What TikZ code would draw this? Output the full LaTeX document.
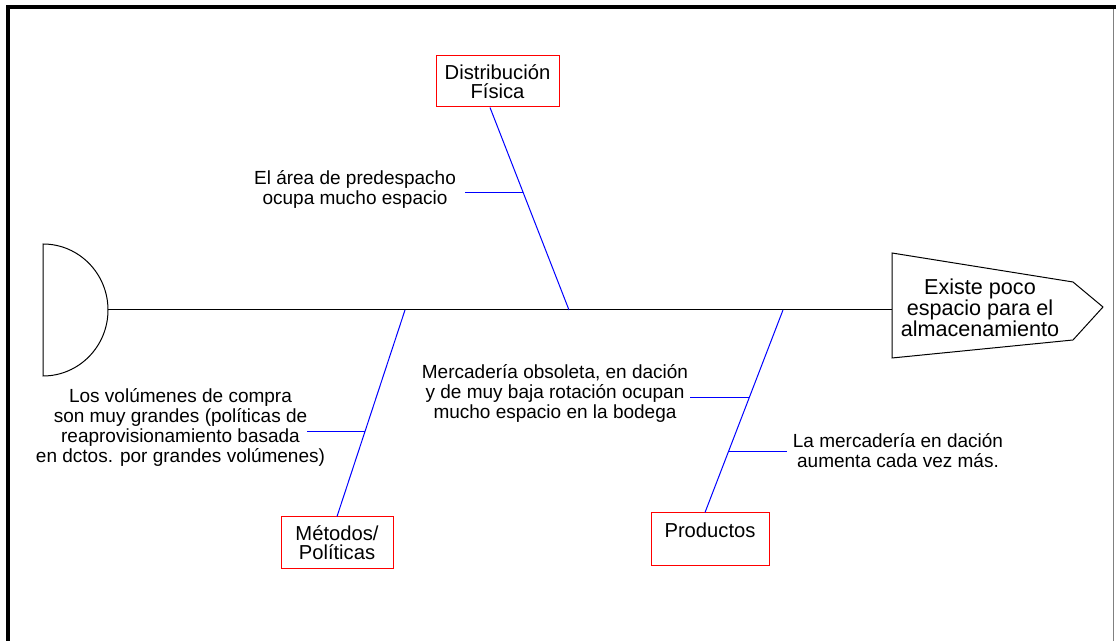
\documentclass[tikz,border=0pt]{standalone}
\usepackage{fontspec}
\setmainfont{Liberation Sans}
\usetikzlibrary{calc}
\def\spiney{310}
\newcommand\notefont{\fontsize{9.5}{10}\selectfont}
\newcommand\causefont{\fontsize{10.1}{9.6}\selectfont}
\newcommand\effectfont{\fontsize{10.8}{10.4}\selectfont}

\begin{document}
\begin{tikzpicture}[x=0.5pt,y=-0.5pt,
    bone/.style={draw=blue,line width=0.5pt},
    spine/.style={draw=black,line width=0.5pt},
    cause/.style={rectangle,draw=red,line width=0.5pt,align=center,font=\causefont,inner sep=0pt},
    note/.style={align=center,font=\notefont,inner sep=0pt}]
        \useasboundingbox (0,0) rectangle (1116,641);
        % frame
        \draw[line width=2pt] (8,641) -- (8,7) -- (1116,7);
        \draw[gray,line width=0.5pt] (1113,9) -- (1113,641);

        % tail and head
        \draw[spine] (43,244) arc[start angle=-90,end angle=90,x radius=65,y radius=66] -- cycle;
        \coordinate (tail) at (108,\spiney);
        \draw[spine] (892,253) -- (1073,282) -- (1103,307) -- (1073,340) -- (892,358) -- cycle;
        \coordinate (head) at (892,\spiney);
        \node[font=\effectfont,align=center,inner sep=0pt] (effect) at (980,308)
            {Existe poco\\espacio para el\\almacenamiento};

        \draw[spine] (tail) -- (head);
        \coordinate (s1) at (405,\spiney);
        \coordinate (s2) at (569,\spiney);
        \coordinate (s3) at (783,\spiney);

        % causes
        \node[cause,minimum width=61.5pt,minimum height=25.5pt] (dist) at (497.5,81.5) {Distribución\\Física};
        \node[cause,minimum width=56pt,minimum height=26pt] (met) at (337,543) {Métodos/\\Políticas};
        \node[cause,minimum width=59pt,minimum height=26.5pt] (prod) at (710,539.5) {Productos\\~};

        \draw[bone] ($(dist.south)+(-7.5,0)$) -- coordinate[pos=0.419] (b1) (s2);
        \draw[bone] (met.north) -- coordinate[pos=0.411] (b2) (s1);
        \draw[bone] ($(prod.north)+(-5,0)$) -- coordinate[pos=0.567] (b3) coordinate[pos=0.300] (b4) (s3);

        % sub-causes
        \node[note] (n1) at (355,189) {El área de predespacho\\ocupa mucho espacio};
        \node[note] (n2) at (180.5,427.5) {Los volúmenes de compra\\son muy grandes (políticas de\\reaprovisionamiento basada\\en dctos. por grandes volúmenes)};
        \node[note] (n3) at (555,393) {Mercadería obsoleta, en dación\\y de muy baja rotación ocupan\\mucho espacio en la bodega};
        \node[note] (n4) at (898,451) {La mercadería en dación\\aumenta cada vez más.};

        \draw[bone] (b1) -- ++(-58,0);
        \draw[bone] (b2) -- ++(-58,0);
        \draw[bone] (b3) -- ++(-59,0);
        \draw[bone] (b4) -- ++(59,0);
    \end{tikzpicture}
\end{document}
